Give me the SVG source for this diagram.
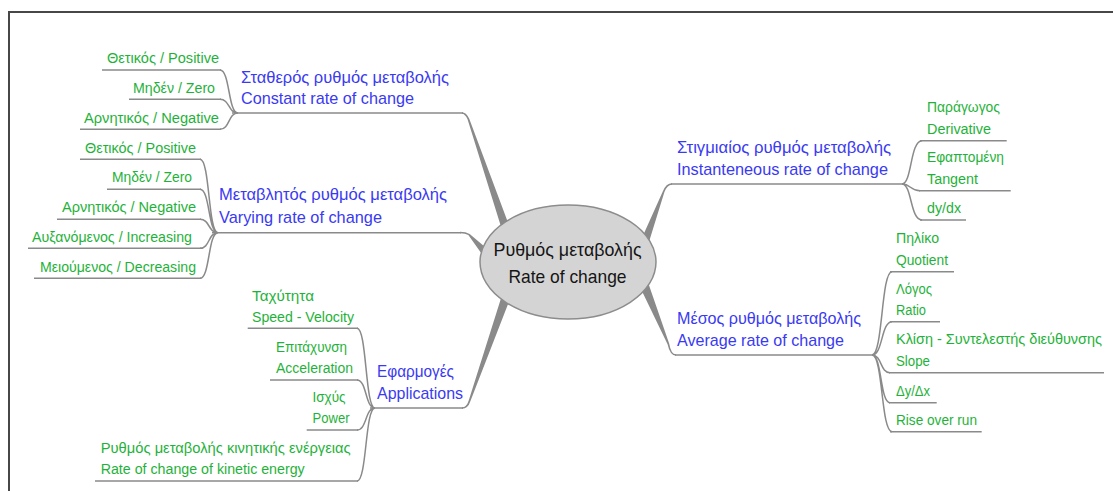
<svg xmlns="http://www.w3.org/2000/svg" width="1113" height="491" viewBox="0 0 1113 491">
<style>
text{font-family:"Liberation Sans","DejaVu Sans",Arial,sans-serif}
.b{font-size:17px;fill:#3a3af2}
.g{font-size:15.5px;fill:#1fb23a}
.c{font-size:19px;fill:#151515;text-anchor:middle}
.ln{fill:none;stroke:#8a8a8a;stroke-width:1.5}
.tp{fill:#8a8a8a}
.fr{fill:none;stroke:#474747;stroke-width:2}
</style>
<rect x="0" y="0" width="1113" height="491" fill="#ffffff"/>
<path class="fr" d="M9 491 V12 H1113"/>

<g id="connectors">
  <path class="tp" d="M462 112.25 Q466 112.25 469.25 118.7 L508.8 224.7 L501.2 227.3 L467.55 119.3 Q465 113.75 462 113.75 Z"/>
  <path class="tp" d="M460 231.75 Q466 231.75 469.66 233.9 L488.9 250.3 L483.1 255.7 L468.34 235.1 Q465.5 233.25 460 233.25 Z"/>
  <path class="tp" d="M462 408.75 Q468 408.75 470.35 401.3 L510.6 297.5 L502.2 294.5 L468.65 400.7 Q466.5 407.25 462 407.25 Z"/>
  <path class="tp" d="M672 183.25 Q666 183.25 662.66 191.68 L641.7 238.6 L649.1 241.4 L664.34 192.32 Q667 184.75 672 184.75 Z"/>
  <path class="tp" d="M676 355.75 Q670 355.75 667.57 344.34 L640.34 287.71 L648.66 284.29 L669.23 343.66 Q671 354.25 676 354.25 Z"/>
  <path class="ln" d="M220 70 C230 70 228 113 238 113 M220 99.3 C230 99.3 228 113 238 113 M220 129.3 C230 129.3 228 113 238 113"/>
  <path class="ln" d="M200 159.3 C210 159.3 208 232.7 218 232.7 M200 189.3 C210 189.3 208 232.7 218 232.7 M200 219.3 C210 219.3 208 232.7 218 232.7 M200 248.3 C210 248.3 208 232.7 218 232.7 M200 278.3 C210 278.3 208 232.7 218 232.7"/>
  <path class="ln" d="M357 328.3 C367 328.3 365 408 375 408 M357 380 C367 380 365 408 375 408 M357 430 C367 430 365 408 375 408 M357 481 C367 481 365 408 375 408"/>
  <path class="ln" d="M902 184 C912 184 910 140.7 922 140.7 M902 184 C911 184 910 190.7 920 190.7 M902 184 C912 184 910 220 922 220"/>
  <path class="ln" d="M872 355 C883 355 881 271.7 892 271.7 M872 355 C883 355 881 321.7 892 321.7 M872 355 C882 355 880 372.7 890 372.7 M872 355 C882 355 880 402.7 890 402.7 M872 355 C883 355 881 431.7 892 431.7"/>
</g>

<g id="center">
  <ellipse cx="568" cy="262" rx="88" ry="57" fill="#d4d4d4" stroke="#8c8c8c" stroke-width="1.5"/>
  <text class="c" x="567.5" y="256" textLength="148" lengthAdjust="spacingAndGlyphs">Ρυθμός μεταβολής</text>
  <text class="c" x="567.5" y="282.5" textLength="118" lengthAdjust="spacingAndGlyphs">Rate of change</text>
</g>

<g id="constant">
  <path class="ln" d="M232 113 H463"/>
  <text class="b" x="241" y="82.5" textLength="208" lengthAdjust="spacingAndGlyphs">Σταθερός ρυθμός μεταβολής</text>
  <text class="b" x="241" y="104" textLength="173" lengthAdjust="spacingAndGlyphs">Constant rate of change</text>
</g>
<g id="constant-positive"><path class="ln" d="M102 70 H221"/><text class="g" x="107" y="63" textLength="112" lengthAdjust="spacingAndGlyphs">Θετικός / Positive</text></g>
<g id="constant-zero"><path class="ln" d="M129 99.3 H221"/><text class="g" x="133" y="92.5" textLength="82" lengthAdjust="spacingAndGlyphs">Μηδέν / Zero</text></g>
<g id="constant-negative"><path class="ln" d="M80 129.3 H221"/><text class="g" x="84" y="122.5" textLength="135" lengthAdjust="spacingAndGlyphs">Αρνητικός / Negative</text></g>

<g id="varying">
  <path class="ln" d="M212 232.7 H461"/>
  <text class="b" x="219" y="200" textLength="228" lengthAdjust="spacingAndGlyphs">Μεταβλητός ρυθμός μεταβολής</text>
  <text class="b" x="219" y="223" textLength="163" lengthAdjust="spacingAndGlyphs">Varying rate of change</text>
</g>
<g id="varying-positive"><path class="ln" d="M80 159.3 H201"/><text class="g" x="85" y="152.5" textLength="111" lengthAdjust="spacingAndGlyphs">Θετικός / Positive</text></g>
<g id="varying-zero"><path class="ln" d="M107 189.3 H201"/><text class="g" x="112" y="182.3" textLength="80" lengthAdjust="spacingAndGlyphs">Μηδέν / Zero</text></g>
<g id="varying-negative"><path class="ln" d="M57 219.3 H201"/><text class="g" x="62" y="212.3" textLength="134" lengthAdjust="spacingAndGlyphs">Αρνητικός / Negative</text></g>
<g id="varying-increasing"><path class="ln" d="M28 248.3 H201"/><text class="g" x="32" y="241.5" textLength="160" lengthAdjust="spacingAndGlyphs">Αυξανόμενος / Increasing</text></g>
<g id="varying-decreasing"><path class="ln" d="M34 278.3 H201"/><text class="g" x="40" y="271.5" textLength="156" lengthAdjust="spacingAndGlyphs">Μειούμενος / Decreasing</text></g>

<g id="applications">
  <path class="ln" d="M370 408 H463"/>
  <text class="b" x="377" y="377" textLength="77" lengthAdjust="spacingAndGlyphs">Εφαρμογές</text>
  <text class="b" x="377" y="399" textLength="86" lengthAdjust="spacingAndGlyphs">Applications</text>
</g>
<g id="app-velocity"><path class="ln" d="M247.7 328.3 H358"/><text class="g" x="252" y="301" textLength="62" lengthAdjust="spacingAndGlyphs">Ταχύτητα</text><text class="g" x="252" y="322" textLength="102" lengthAdjust="spacingAndGlyphs">Speed - Velocity</text></g>
<g id="app-acceleration"><path class="ln" d="M270 380 H358"/><text class="g" x="276" y="351.5" textLength="71" lengthAdjust="spacingAndGlyphs">Επιτάχυνση</text><text class="g" x="276" y="373" textLength="77" lengthAdjust="spacingAndGlyphs">Acceleration</text></g>
<g id="app-power"><path class="ln" d="M306.7 430 H358"/><text class="g" x="312.5" y="401.5" textLength="33" lengthAdjust="spacingAndGlyphs">Ισχύς</text><text class="g" x="312.5" y="423" textLength="37" lengthAdjust="spacingAndGlyphs">Power</text></g>
<g id="app-kinetic"><path class="ln" d="M95 481 H358"/><text class="g" x="100.7" y="452.5" textLength="250" lengthAdjust="spacingAndGlyphs">Ρυθμός μεταβολής κινητικής ενέργειας</text><text class="g" x="100.7" y="474" textLength="204" lengthAdjust="spacingAndGlyphs">Rate of change of kinetic energy</text></g>

<g id="instantaneous">
  <path class="ln" d="M671 184 H905"/>
  <text class="b" x="677" y="153" textLength="214" lengthAdjust="spacingAndGlyphs">Στιγμιαίος ρυθμός μεταβολής</text>
  <text class="b" x="677" y="175" textLength="211" lengthAdjust="spacingAndGlyphs">Instanteneous rate of change</text>
</g>
<g id="inst-derivative"><path class="ln" d="M920 140.7 H1006.7"/><text class="g" x="927" y="112" textLength="73" lengthAdjust="spacingAndGlyphs">Παράγωγος</text><text class="g" x="927" y="133.5" textLength="64" lengthAdjust="spacingAndGlyphs">Derivative</text></g>
<g id="inst-tangent"><path class="ln" d="M919 190.7 H1010.7"/><text class="g" x="927" y="162" textLength="77" lengthAdjust="spacingAndGlyphs">Εφαπτομένη</text><text class="g" x="927" y="183.5" textLength="51" lengthAdjust="spacingAndGlyphs">Tangent</text></g>
<g id="inst-dydx"><path class="ln" d="M920 220 H966"/><text class="g" x="927" y="212.5" textLength="34" lengthAdjust="spacingAndGlyphs">dy/dx</text></g>

<g id="average">
  <path class="ln" d="M675 355 H874"/>
  <text class="b" x="677" y="323.5" textLength="184" lengthAdjust="spacingAndGlyphs">Μέσος ρυθμός μεταβολής</text>
  <text class="b" x="677" y="345.5" textLength="167" lengthAdjust="spacingAndGlyphs">Average rate of change</text>
</g>
<g id="avg-quotient"><path class="ln" d="M890 271.7 H954"/><text class="g" x="896" y="242.5" textLength="43" lengthAdjust="spacingAndGlyphs">Πηλίκο</text><text class="g" x="896" y="264.5" textLength="52" lengthAdjust="spacingAndGlyphs">Quotient</text></g>
<g id="avg-ratio"><path class="ln" d="M890 321.7 H940"/><text class="g" x="896" y="293.5" textLength="36" lengthAdjust="spacingAndGlyphs">Λόγος</text><text class="g" x="896" y="315" textLength="30" lengthAdjust="spacingAndGlyphs">Ratio</text></g>
<g id="avg-slope"><path class="ln" d="M889 372.7 H1104"/><text class="g" x="896" y="344" style="font-size:14.4px" textLength="206" lengthAdjust="spacingAndGlyphs">Κλίση - Συντελεστής διεύθυνσης</text><text class="g" x="896" y="366" textLength="34" lengthAdjust="spacingAndGlyphs">Slope</text></g>
<g id="avg-dydx"><path class="ln" d="M889 402.7 H936.7"/><text class="g" x="896" y="396" textLength="34" lengthAdjust="spacingAndGlyphs">Δy/Δx</text></g>
<g id="avg-rise"><path class="ln" d="M890 431.7 H981.7"/><text class="g" x="896" y="424.5" textLength="81" lengthAdjust="spacingAndGlyphs">Rise over run</text></g>
</svg>
